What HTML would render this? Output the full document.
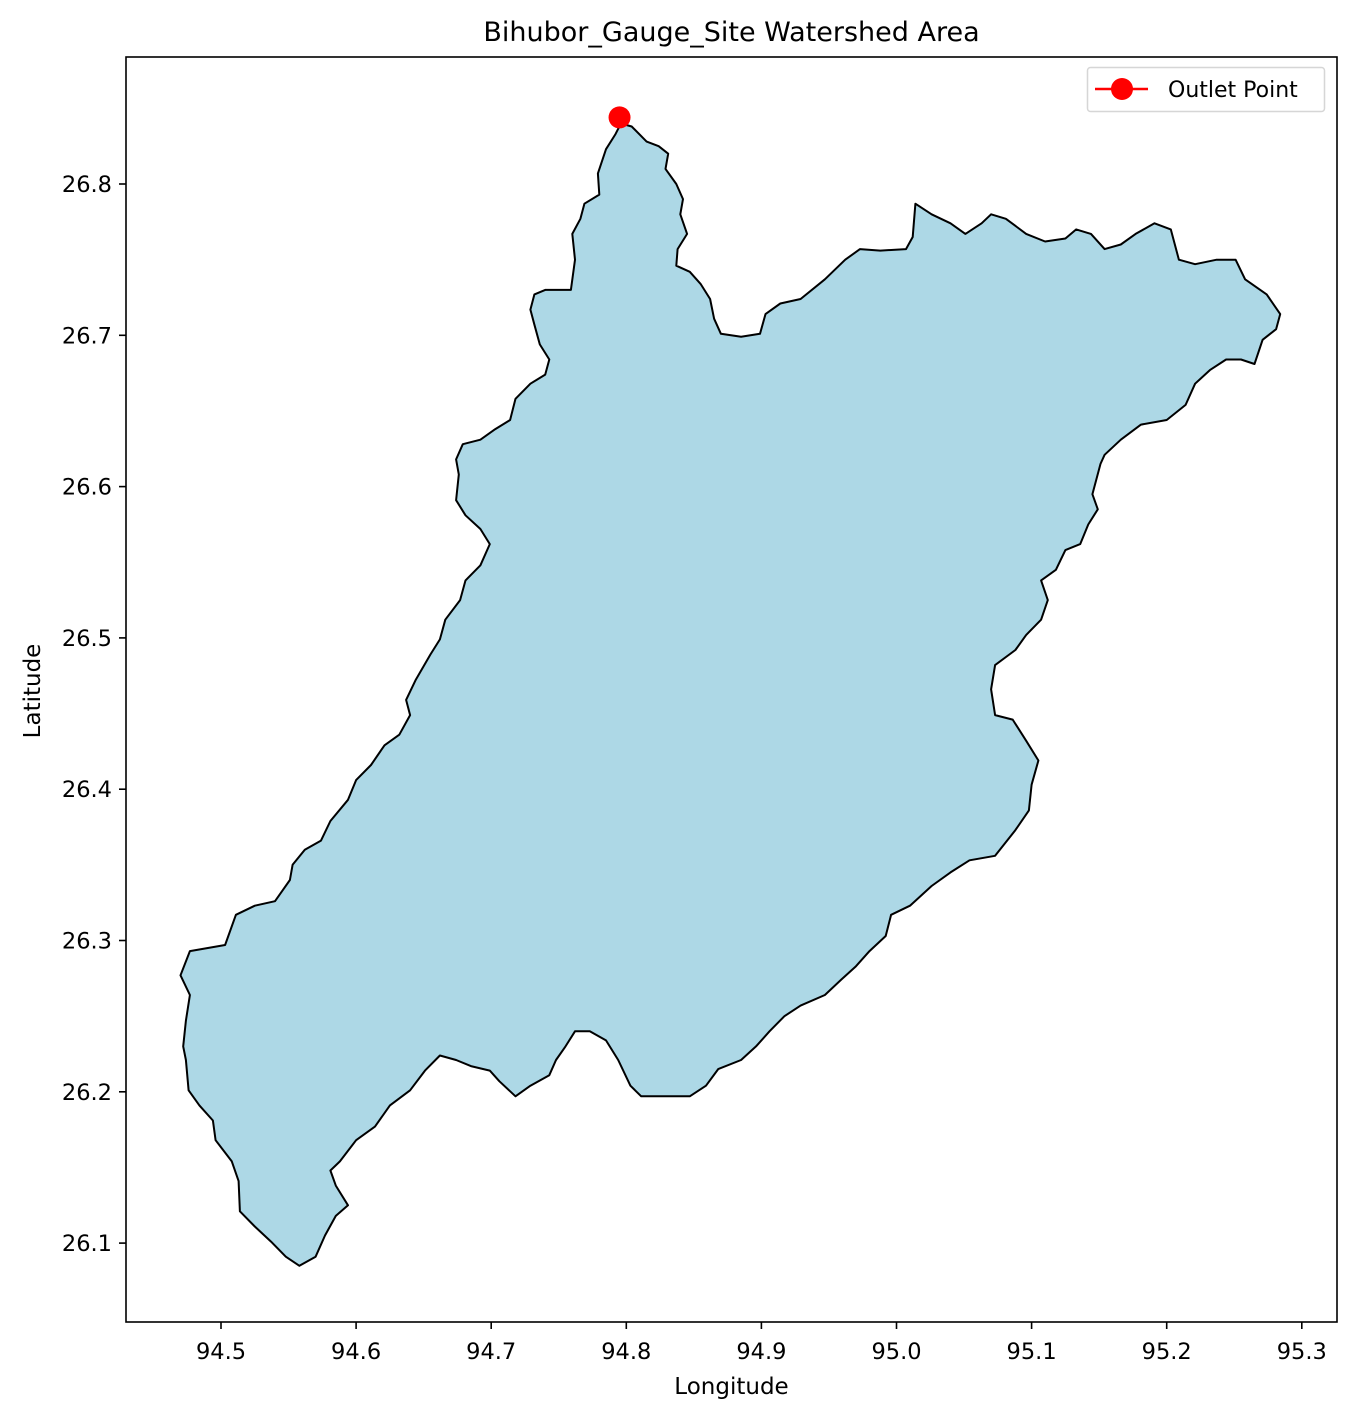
<!DOCTYPE html>
<html><head><meta charset="utf-8"><style>
html,body{margin:0;padding:0;background:#fff;}
svg text{font-family:"DejaVu Sans","Liberation Sans",sans-serif;fill:#000;}
</style></head><body>
<svg id="chart" width="1354" height="1417" xmlns="http://www.w3.org/2000/svg">
<rect width="1354" height="1417" fill="#fff"/>
<text x="731.5" y="41" style="font-size:27px" text-anchor="middle">Bihubor_Gauge_Site Watershed Area</text>
<g id="plot"></g>
<g id="xticks"></g>
<g id="yticks"></g>
<text x="731.5" y="1394" style="font-size:23px" text-anchor="middle">Longitude</text>
<text x="40" y="691" style="font-size:23px" text-anchor="middle" transform="rotate(-90 40 691)">Latitude</text>
<rect x="126" y="57" width="1211" height="1265" fill="none" stroke="#000" stroke-width="1.6"/>
<g>
<rect x="1087.5" y="67.5" width="237" height="44" rx="3" fill="#fff" fill-opacity="0.8" stroke="#d6d6d6" stroke-width="1.5"/>
<line x1="1095" y1="89" x2="1148" y2="89" stroke="#f00" stroke-width="2.5"/>
<circle cx="1122" cy="89" r="11" fill="#f00"/>
<text x="1168" y="97" style="font-size:22px">Outlet Point</text>
</g>
</svg>
<script>
const boundaryLon=[94.796,94.804,94.815,94.824,94.831,94.829,94.837,94.842,94.840,94.845,94.838,94.837,94.847,94.855,94.862,94.865,94.870,94.885,94.899,94.903,94.914,94.929,94.947,94.962,94.973,94.988,95.007,95.012,95.014,95.026,95.040,95.051,95.063,95.070,95.081,95.096,95.110,95.125,95.133,95.144,95.154,95.166,95.177,95.191,95.203,95.209,95.221,95.237,95.251,95.258,95.274,95.284,95.281,95.271,95.265,95.255,95.244,95.232,95.221,95.214,95.200,95.181,95.166,95.154,95.151,95.145,95.149,95.142,95.136,95.125,95.118,95.107,95.112,95.107,95.096,95.088,95.073,95.070,95.073,95.086,95.096,95.105,95.100,95.098,95.088,95.073,95.054,95.040,95.026,95.010,94.996,94.992,94.980,94.970,94.959,94.947,94.929,94.917,94.906,94.896,94.885,94.868,94.859,94.847,94.825,94.811,94.803,94.794,94.785,94.773,94.762,94.755,94.748,94.743,94.729,94.718,94.706,94.699,94.685,94.674,94.662,94.651,94.640,94.625,94.614,94.600,94.588,94.581,94.585,94.594,94.585,94.577,94.570,94.558,94.548,94.537,94.525,94.514,94.513,94.508,94.496,94.494,94.484,94.476,94.474,94.472,94.474,94.477,94.470,94.477,94.503,94.511,94.525,94.540,94.551,94.553,94.562,94.574,94.581,94.594,94.600,94.611,94.621,94.632,94.640,94.637,94.644,94.655,94.662,94.666,94.677,94.681,94.692,94.699,94.692,94.681,94.674,94.676,94.674,94.679,94.692,94.703,94.714,94.718,94.729,94.740,94.743,94.736,94.732,94.729,94.732,94.740,94.759,94.762,94.760,94.766,94.769,94.780,94.779,94.785,94.792];
const boundaryLat=[26.840,26.838,26.828,26.825,26.820,26.810,26.800,26.790,26.780,26.767,26.757,26.746,26.742,26.734,26.724,26.711,26.701,26.699,26.701,26.714,26.721,26.724,26.737,26.750,26.757,26.756,26.757,26.765,26.787,26.780,26.774,26.767,26.774,26.780,26.777,26.767,26.762,26.764,26.770,26.767,26.757,26.760,26.767,26.774,26.770,26.750,26.747,26.750,26.750,26.737,26.727,26.714,26.704,26.697,26.681,26.684,26.684,26.677,26.668,26.654,26.644,26.641,26.631,26.621,26.615,26.595,26.585,26.575,26.562,26.558,26.545,26.538,26.525,26.512,26.502,26.492,26.482,26.466,26.449,26.446,26.432,26.419,26.403,26.386,26.373,26.356,26.353,26.345,26.336,26.323,26.317,26.303,26.293,26.283,26.274,26.264,26.257,26.250,26.240,26.230,26.221,26.215,26.204,26.197,26.197,26.197,26.204,26.221,26.234,26.240,26.240,26.230,26.221,26.211,26.204,26.197,26.207,26.214,26.217,26.221,26.224,26.214,26.201,26.191,26.177,26.168,26.154,26.148,26.138,26.125,26.118,26.105,26.091,26.085,26.091,26.101,26.111,26.121,26.141,26.154,26.168,26.181,26.191,26.201,26.221,26.230,26.247,26.264,26.277,26.293,26.297,26.317,26.323,26.326,26.340,26.350,26.360,26.366,26.379,26.393,26.406,26.416,26.429,26.436,26.449,26.459,26.472,26.489,26.499,26.512,26.525,26.538,26.548,26.562,26.572,26.581,26.591,26.608,26.618,26.628,26.631,26.638,26.644,26.658,26.668,26.674,26.684,26.694,26.707,26.717,26.727,26.730,26.730,26.750,26.767,26.777,26.787,26.793,26.807,26.823,26.833];
const outletLon=[94.795];
const outletLat=[26.844];
const xTickValues=[94.5,94.6,94.7,94.8,94.9,95.0,95.1,95.2,95.3];
const xTickLabels=["94.5","94.6","94.7","94.8","94.9","95.0","95.1","95.2","95.3"];
const yTickValues=[26.1,26.2,26.3,26.4,26.5,26.6,26.7,26.8];
const yTickLabels=["26.1","26.2","26.3","26.4","26.5","26.6","26.7","26.8"];

const NS='http://www.w3.org/2000/svg';
function xScale(lon){return 221+(lon-94.5)*1351;}
function yScale(lat){return 184+(26.8-lat)*1513;}
function mk(tag,attrs){const e=document.createElementNS(NS,tag);for(const k in attrs)e.setAttribute(k,attrs[k]);return e;}

const plot=document.getElementById('plot');
let d='';
for(let i=0;i<boundaryLon.length;i++){d+=(i?'L':'M')+xScale(boundaryLon[i]).toFixed(1)+' '+yScale(boundaryLat[i]).toFixed(1);}
d+='Z';
const poly=mk('path',{d:d,fill:'#add8e6',stroke:'#000','stroke-width':'2','stroke-linejoin':'round'});


plot.appendChild(poly);
for(let i=0;i<outletLon.length;i++){
  const c=mk('circle',{cx:xScale(outletLon[i]),cy:yScale(outletLat[i]),r:11,fill:'#f00'});
  
  
  plot.appendChild(c);
}
const xg=document.getElementById('xticks');
xTickValues.forEach((v,i)=>{
  const x=xScale(v);
  const t=mk('line',{x1:x,y1:1322,x2:x,y2:1329,stroke:'#000','stroke-width':'1.6'});
  
  
  xg.appendChild(t);
  const l=mk('text',{x:x,y:1359,style:'font-size:22.5px','text-anchor':'middle'});
  l.textContent=xTickLabels[i];
  
  
  xg.appendChild(l);
});
const yg=document.getElementById('yticks');
yTickValues.forEach((v,i)=>{
  const y=yScale(v);
  const t=mk('line',{x1:119,y1:y,x2:126,y2:y,stroke:'#000','stroke-width':'1.6'});
  
  
  yg.appendChild(t);
  const l=mk('text',{x:112,y:y+8,style:'font-size:22.5px','text-anchor':'end'});
  l.textContent=yTickLabels[i];
  
  
  yg.appendChild(l);
});
</script>
</body></html>
